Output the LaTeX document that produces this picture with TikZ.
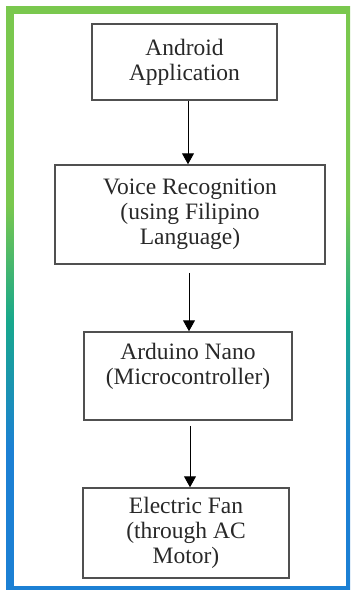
\documentclass[tikz,border=0pt]{standalone}
\usepackage{fontspec}
\setmainfont{Liberation Serif}
\usetikzlibrary{arrows.meta}
\definecolor{frgreen}{RGB}{122,200,78}
\definecolor{frteal}{RGB}{24,168,140}
\definecolor{frblue}{RGB}{28,128,212}
\definecolor{boxline}{RGB}{80,80,80}
\definecolor{txt}{RGB}{40,40,40}
\pgfdeclareverticalshading{framegrad}{100bp}{color(0bp)=(frblue); color(37bp)=(frblue); color(48bp)=(frteal); color(58bp)=(frgreen); color(100bp)=(frgreen)}
\tikzset{
  stepbox/.style={draw=boxline, line width=1.5pt, fill=white, inner sep=0pt,
    align=center, text=txt, font=\fontsize{23.5pt}{25pt}\selectfont},
  flow/.style={draw=black, line width=1pt, -{Triangle[width=12pt,length=11pt]}}
}
\begin{document}
\begin{tikzpicture}[x=1pt,y=-1pt]
\useasboundingbox (0,0) rectangle (352,590);
% frame
\shade[shading=framegrad] (6,6) rectangle (350,589);
\fill[white] (14,14) rectangle (346,586);
% boxes
\node[stepbox, minimum width=185pt, minimum height=76pt] (b1) at (184.5,62) {Android\\Application};
\node[stepbox, minimum width=270pt, minimum height=99pt] (b2) at (190,214.5) {Voice Recognition\\(using Filipino\\Language)};
\node[stepbox, minimum width=208pt, minimum height=88pt] (b3) at (188,376) {Arduino Nano\\(Microcontroller)\\\mbox{}};
\node[stepbox, minimum width=206pt, minimum height=90pt] (b4) at (186,533) {Electric Fan\\(through AC\\Motor)};
% connectors
\draw[flow] (b1.south -| 188,0) -- (b2.north -| 188,0);
\draw[flow, shorten <=8pt] (b2.south -| 189,0) -- (b3.north -| 189,0);
\draw[flow, shorten <=5pt] (b3.south -| 190,0) -- (b4.north -| 190,0);
\end{tikzpicture}
\end{document}
